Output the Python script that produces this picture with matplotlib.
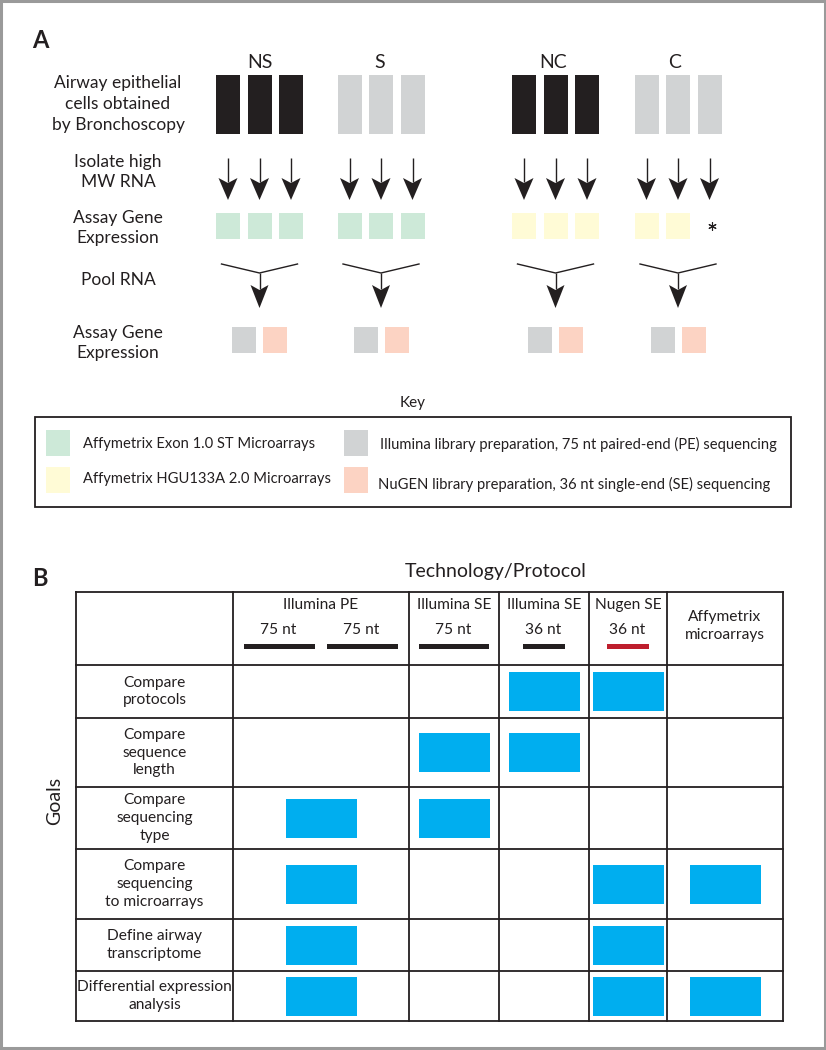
import matplotlib
matplotlib.use("Agg")
import matplotlib.pyplot as plt
from matplotlib.patches import Rectangle, Polygon

plt.rcParams['font.family'] = ['Lato', 'DejaVu Sans']

# ---- panel A data ----
groups = ["NS", "S", "NC", "C"]
group_shade = ["dark", "light", "dark", "light"]
group_array = ["exon", "exon", "hgu", "hgu"]
samples_assayed = [[1, 1, 1], [1, 1, 1], [1, 1, 1], [1, 1, 0]]
pooled_assays = ["illumina", "nugen"]

step_labels = ["Airway epithelial\ncells obtained\nby Bronchoscopy",
               "Isolate high\nMW RNA",
               "Assay Gene\nExpression",
               "Pool RNA",
               "Assay Gene\nExpression"]

key_items = ["exon", "hgu", "illumina", "nugen"]
key_labels = ["Affymetrix Exon 1.0 ST Microarrays",
              "Affymetrix HGU133A 2.0 Microarrays",
              "Illumina library preparation, 75 nt paired-end (PE) sequencing",
              "NuGEN library preparation, 36 nt single-end (SE) sequencing"]

# ---- panel B data ----
tech_names = ["Illumina PE", "Illumina SE", "Illumina SE", "Nugen SE",
              "Affymetrix\nmicroarrays"]
read_lengths = [[75, 75], [75], [36], [36], []]
read_colors = ["black", "black", "black", "red", None]
goals = ["Compare\nprotocols",
         "Compare\nsequence\nlength",
         "Compare\nsequencing\ntype",
         "Compare\nsequencing\nto microarrays",
         "Define airway\ntranscriptome",
         "Differential expression\nanalysis"]
goal_matrix = [[0, 0, 1, 1, 0],
               [0, 1, 1, 0, 0],
               [1, 1, 0, 0, 0],
               [1, 0, 0, 1, 1],
               [1, 0, 0, 1, 0],
               [1, 0, 0, 1, 1]]

# ---- styling ----
COL = {"dark": "#231f20", "light": "#d1d3d4", "exon": "#cde9d8",
       "hgu": "#fffbd6", "illumina": "#d1d3d4", "nugen": "#fcd3c3",
       "blue": "#00aeef", "black": "#231f20", "red": "#be1e2d"}
INK = "#231f20"

fig = plt.figure(figsize=(8.26, 10.5), dpi=100)
ax = fig.add_axes([0, 0, 1, 1])
ax.set_xlim(0, 826)
ax.set_ylim(1050, 0)
ax.axis("off")

# outer frame
ax.add_patch(Rectangle((1, 1), 824, 1047, fill=False, ec="#9a9a9a", lw=2.2))


def down_arrow(x, y0, tip, head_len, half_w, lw=1.0):
    base = tip - head_len
    ax.plot([x, x], [y0, base + 4], color=INK, lw=lw, solid_capstyle="butt")
    ax.add_patch(Polygon([[x, tip], [x - half_w, base], [x, base + 5],
                          [x + half_w, base]], closed=True, color=INK, lw=0))


# ---- panel A ----
ax.text(40, 41, "A", fontsize=17, fontweight="bold", ha="center", va="center",
        color=INK)

group_x = [259.5, 381, 555.5, 678]
label_x = [260, 380, 553, 675]
offs = [-31.5, 0, 31.5]

step_y = [104, 172, 228, 280, 343]
for lab, y in zip(step_labels, step_y):
    ax.text(118, y, lab, fontsize=12.5, ha="center", va="center",
            linespacing=1.38, color=INK)

for g, (name, shade, arr, done) in enumerate(zip(groups, group_shade,
                                                 group_array, samples_assayed)):
    cx = group_x[g]
    ax.text(label_x[g], 62, name, fontsize=14, ha="center", va="center",
            color=INK)
    for k, dx in enumerate(offs):
        x = cx + dx
        ax.add_patch(Rectangle((x - 12, 75), 24, 59, color=COL[shade], lw=0))
        down_arrow(x, 158, 200, 22, 9.5)
        if done[k]:
            ax.add_patch(Rectangle((x - 12, 213), 24, 26, color=COL[arr],
                                   lw=0))
        else:
            # sample not assayed
            ax.plot(x + 2, 226, marker=(6, 2, 0), ms=6, mew=0.8, color=INK)
    # pooling
    ax.plot([cx - 38, cx, cx + 38], [264, 273, 264], color=INK, lw=1.0)
    down_arrow(cx, 273, 308, 23, 9)
    for j, assay in enumerate(pooled_assays):
        x = cx - 15.5 + 31 * j
        ax.add_patch(Rectangle((x - 12, 327), 24, 26, color=COL[assay], lw=0))

# key
ax.text(413, 403, "Key", fontsize=11, ha="center", va="center", color=INK)
ax.add_patch(Rectangle((35, 417), 756, 90, fill=False, ec=INK, lw=1.3))
key_pos = [(46, 430, 83, 444), (46, 467, 83, 479),
           (344, 430, 380, 444), (344, 467, 378, 484)]
for item, lab, (sx, sy, tx, ty) in zip(key_items, key_labels, key_pos):
    ax.add_patch(Rectangle((sx, sy), 24, 26, color=COL[item], lw=0))
    ax.text(tx, ty, lab, fontsize=10.6, ha="left", va="center", color=INK)

# ---- panel B ----
ax.text(40, 578, "B", fontsize=17, fontweight="bold", ha="center",
        va="center", color=INK)
ax.text(496, 571, "Technology/Protocol", fontsize=14, ha="center",
        va="center", color=INK)
ax.text(55, 801, "Goals", fontsize=14, ha="center", va="center",
        rotation=90, color=INK)

col_edges = [76, 233, 409, 499, 589, 667, 783]
row_edges = [592, 665, 718, 787, 849, 919, 971, 1021]

for x in col_edges:
    ax.plot([x, x], [row_edges[0], row_edges[-1]], color=INK, lw=1.3)
for y in row_edges:
    ax.plot([col_edges[0], col_edges[-1]], [y, y], color=INK, lw=1.3)

col_c = [(a + b) / 2 for a, b in zip(col_edges[:-1], col_edges[1:])]
row_c = [(a + b) / 2 for a, b in zip(row_edges[:-1], row_edges[1:])]

# header
for j, (name, lens, rc) in enumerate(zip(tech_names, read_lengths,
                                         read_colors)):
    cx = col_c[j + 1]
    if not lens:
        ax.text(cx, 626, name, fontsize=11.2, ha="center", va="center",
                linespacing=1.35, color=INK)
        continue
    ax.text(cx, 605, name, fontsize=11.2, ha="center", va="center", color=INK)
    n = len(lens)
    for k, nt in enumerate(lens):
        bx = cx + (k - (n - 1) / 2) * 83
        w = 16 + 0.73 * nt
        ax.text(bx - 1, 630, f"{nt} nt", fontsize=11.2, ha="center",
                va="center", color=INK)
        ax.add_patch(Rectangle((bx - w / 2, 643.5), w, 5, color=COL[rc],
                               lw=0))

# goals rows
for i, (goal, flags) in enumerate(zip(goals, goal_matrix)):
    ax.text(col_c[0], row_c[i + 1], goal, fontsize=11.2, ha="center",
            va="center", linespacing=1.32, color=INK)
    for j, f in enumerate(flags):
        if f:
            ax.add_patch(Rectangle((col_c[j + 1] - 35.5, row_c[i + 1] - 19.5),
                                   71, 39, color=COL["blue"], lw=0))

fig.savefig("out.png", dpi=100)
